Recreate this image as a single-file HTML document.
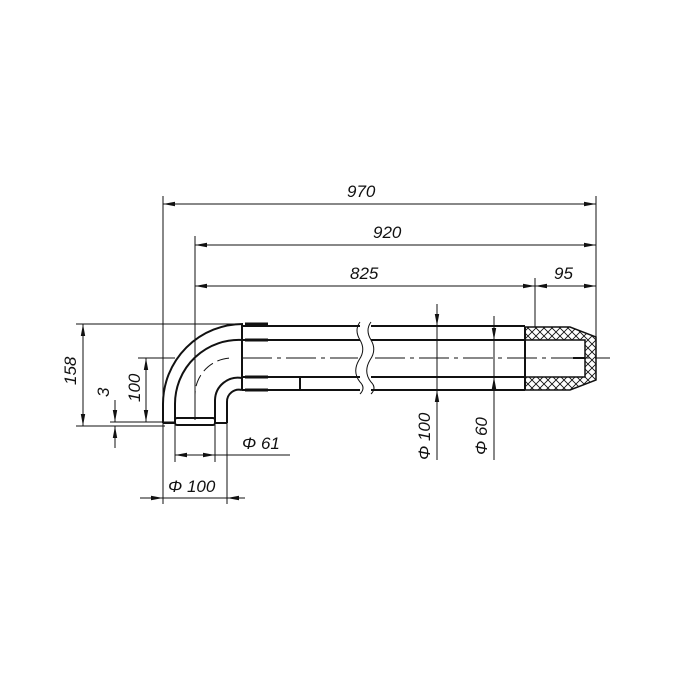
<!DOCTYPE html>
<html><head><meta charset="utf-8"><style>
html,body{margin:0;padding:0;background:#fff}
svg{display:block}
text{font-family:"Liberation Sans",sans-serif;font-style:italic;font-size:17px;fill:#111}
</style></head><body>
<svg width="700" height="700" viewBox="0 0 700 700" xmlns="http://www.w3.org/2000/svg">
<defs>
<marker id="a" viewBox="0 0 12 6" refX="12" refY="3" markerWidth="12" markerHeight="6" orient="auto-start-reverse" markerUnits="userSpaceOnUse"><path d="M0,0.8 L12,3 L0,5.2z" fill="#111"/></marker>
<pattern id="h" width="8" height="8" patternUnits="userSpaceOnUse"><path d="M0,0L8,8M8,0L0,8" stroke="#111" stroke-width="0.9"/></pattern>
</defs>
<g stroke="#111" fill="none" stroke-width="1">
<line x1="163" y1="196" x2="163" y2="504"/>
<line x1="195" y1="236" x2="195" y2="420"/>
<line x1="596" y1="196" x2="596" y2="358"/>
<line x1="535" y1="278" x2="535" y2="327"/>
<line x1="76" y1="324" x2="243" y2="324"/>
<line x1="76" y1="426" x2="165" y2="426"/>
<line x1="110" y1="422" x2="175" y2="422"/>
<line x1="138" y1="358" x2="175" y2="358"/>
<line x1="175" y1="425" x2="175" y2="462"/>
<line x1="215" y1="425" x2="215" y2="462"/>
<line x1="227" y1="422" x2="227" y2="504"/>
<line x1="163" y1="204" x2="596" y2="204" marker-start="url(#a)" marker-end="url(#a)"/>
<line x1="195" y1="245" x2="596" y2="245" marker-start="url(#a)" marker-end="url(#a)"/>
<line x1="195" y1="286" x2="535" y2="286" marker-start="url(#a)" marker-end="url(#a)"/>
<line x1="535" y1="286" x2="596" y2="286" marker-start="url(#a)" marker-end="url(#a)"/>
<line x1="83" y1="324" x2="83" y2="426" marker-start="url(#a)" marker-end="url(#a)"/>
<line x1="146" y1="358" x2="146" y2="422" marker-start="url(#a)" marker-end="url(#a)"/>
<line x1="115" y1="400" x2="115" y2="422" marker-end="url(#a)"/>
<line x1="115" y1="448" x2="115" y2="426" marker-end="url(#a)"/>
<line x1="175" y1="455" x2="290" y2="455"/>
<line x1="190" y1="455" x2="175" y2="455" marker-end="url(#a)"/>
<line x1="200" y1="455" x2="215" y2="455" marker-end="url(#a)"/>
<line x1="140" y1="498" x2="245" y2="498"/>
<line x1="150" y1="498" x2="163" y2="498" marker-end="url(#a)"/>
<line x1="240" y1="498" x2="227" y2="498" marker-end="url(#a)"/>
<line x1="437" y1="304" x2="437" y2="326" marker-end="url(#a)"/>
<line x1="437" y1="460" x2="437" y2="390" marker-end="url(#a)"/>
<line x1="437" y1="326" x2="437" y2="390"/>
<line x1="494" y1="316" x2="494" y2="340" marker-end="url(#a)"/>
<line x1="494" y1="460" x2="494" y2="377" marker-end="url(#a)"/>
<line x1="494" y1="340" x2="494" y2="377"/>
<path d="M242,358 H358 M375,358 H610" stroke-dasharray="30,5,4,5"/>
<path d="M195,420 V395 A37,37 0 0 1 232,358" stroke-dasharray="12,5"/>
</g>
<g stroke="#111" fill="none" stroke-width="2">
<path d="M163,423 V404 A80,80 0 0 1 243,324"/>
<path d="M175,420 V404 A64,64 0 0 1 243,340"/>
<path d="M215,420 V400 A23,23 0 0 1 242,378"/>
<path d="M227,423 V402 A12,12 0 0 1 242,390"/>
<path d="M163,423 H175 M215,423 H227"/>
<rect x="175" y="418" width="40" height="7" rx="2"/>
<line x1="242" y1="324" x2="242" y2="390"/>
<line x1="300" y1="377" x2="300" y2="390"/>
<path d="M242,326 H360 M242,340 H360 M242,377 H360 M242,390 H360"/>
<path d="M371,326 H525 M371,340 H525 M371,377 H525 M371,390 H525"/>
<path d="M360,322 Q354,330 360,340 Q366,350 359,360 Q352,372 360,382 Q366,388 360,394" stroke-width="1"/>
<path d="M371,322 Q365,330 371,340 Q377,350 370,360 Q363,372 371,382 Q377,388 371,394" stroke-width="1"/>
<path d="M525,327 L570,327 L596,337 V380 L570,390 L525,390 V377 H585 V340 H525 Z" fill="url(#h)" stroke-width="1.5"/>
<line x1="525" y1="327" x2="525" y2="390"/>
<line x1="573" y1="358" x2="585" y2="358"/>
</g>
<g stroke="#111" stroke-width="3">
<line x1="245" y1="324" x2="268" y2="324"/><line x1="245" y1="340" x2="268" y2="340"/>
<line x1="245" y1="377" x2="268" y2="377"/><line x1="245" y1="390" x2="268" y2="390"/>
</g>
<text x="347" y="197">970</text>
<text x="373" y="238">920</text>
<text x="350" y="279">825</text>
<text x="554" y="279">95</text>
<text transform="translate(76,385) rotate(-90)">158</text>
<text transform="translate(109,397) rotate(-90)">3</text>
<text transform="translate(140,402) rotate(-90)">100</text>
<text x="242" y="449">Φ 61</text>
<text x="168" y="492">Φ 100</text>
<text transform="translate(430,460) rotate(-90)">Φ 100</text>
<text transform="translate(487,455) rotate(-90)">Φ 60</text>
</svg>
</body></html>
